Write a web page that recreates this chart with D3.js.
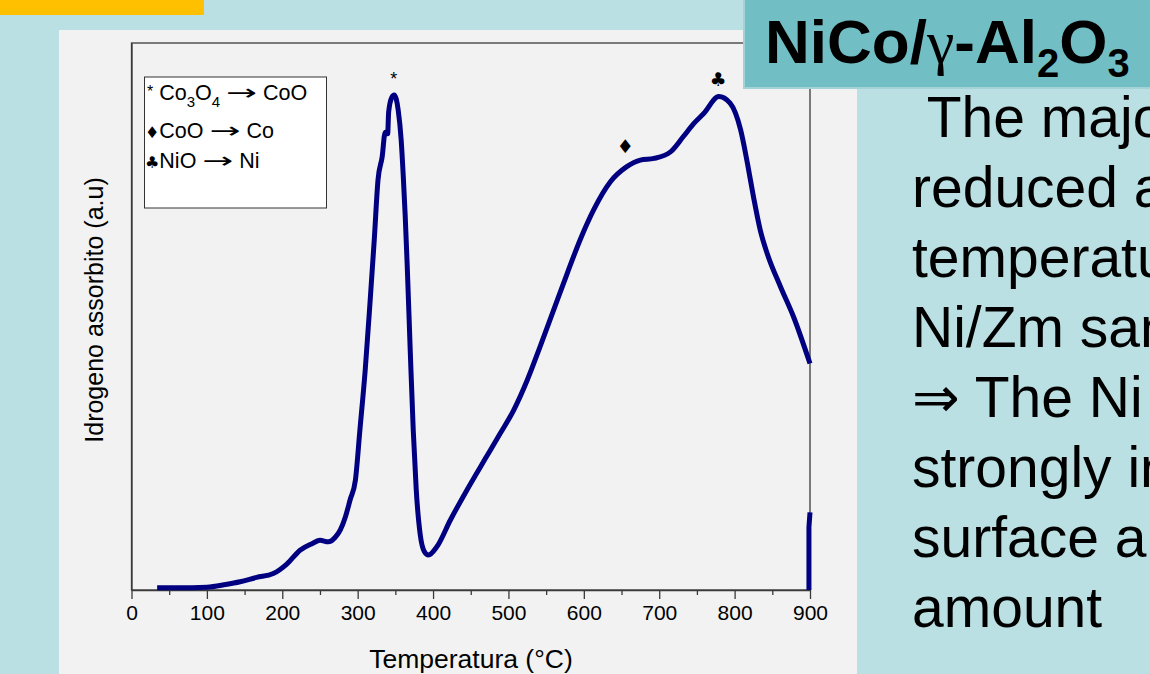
<!DOCTYPE html>
<html>
<head>
<meta charset="utf-8">
<script src="https://cdn.jsdelivr.net/npm/d3@7"></script>
<style>
  body { margin: 0; background: #BBE0E3; }
  svg { display: block; font-family: Arial, "Liberation Sans", sans-serif; }
</style>
</head>
<body>
<svg id="chart"></svg>
<script>
// TPR profile NiCo/gamma-Al2O3 (arbitrary units 0..100)
var tempC = [34, 60, 100, 125, 144, 166, 188, 206, 224, 240, 250, 261, 270, 277, 284, 290,
             297, 303, 310, 316.6, 322, 327, 332.5, 336.5, 339.8, 341.1, 345.4, 348.4,
             353.7, 357.7, 360.4, 363, 365.7, 369.7, 373.7, 377.7, 383, 388.2, 394, 405,
             423, 445, 471, 489, 507, 525, 542, 560, 578, 595, 613, 635, 657, 675, 693,
             715, 732, 746, 759, 779, 794, 808, 817, 825, 834, 843, 861, 878, 900];
var h2Signal = [0.4, 0.4, 0.5, 1.0, 1.5, 2.3, 3.0, 4.75, 7.3, 8.5, 9.1, 8.8, 9.6, 11, 13.5, 16.5,
                20.1, 29.3, 40.2, 53, 64, 75, 79.2, 83.7, 83.4, 87.4, 90.1, 90.5,
                87.8, 82.3, 75.9, 68.6, 59.4, 43.9, 29.3, 18.3, 10.1, 7.1, 6.4, 7.9,
                12.8, 18.3, 24.4, 28.6, 32.9, 38.4, 44.5, 51.2, 57.9, 64, 69.5, 74.6, 77.4, 78.6, 78.9,
                80.1, 82.9, 85.3, 87.1, 90.2, 89, 84.1, 78, 71.9, 65.8, 61.6, 55.4, 50, 41.4];

// isothermal tail at 900 °C
var holdT = [900, 898.6, 898.6];
var holdSignal = [14.2, 11.5, 0];

var majorTicks = [0, 100, 200, 300, 400, 500, 600, 700, 800, 900];
var minorTicks = [50, 150, 250, 350, 450, 550, 650, 750, 850];

// peak markers
var markSymbols = ["*", "\u2666", "\u2663"];
var markT = [348, 655, 778];
var markV = [92.4, 79.8, 92.1];

var bodyLines = [" The major", "reduced at", "temperature", "Ni/Zm sample",
                 "\u21D2 The Ni", "strongly in", "surface and", "amount"];

var symbolFont = "'DejaVu Sans', sans-serif";

var width = 1150;
var height = 674;

var svg = d3.select("#chart")
    .attr("width", width)
    .attr("height", height);

svg.append("rect")
    .attr("width", width)
    .attr("height", height)
    .attr("fill", "#BBE0E3");

// orange strip top left
svg.append("rect")
    .attr("x", 0).attr("y", 0)
    .attr("width", 204).attr("height", 15)
    .attr("fill", "#FFC000");

// grey chart panel
svg.append("rect")
    .attr("x", 59).attr("y", 30)
    .attr("width", 798).attr("height", 650)
    .attr("fill", "#F2F2F2");

var plot = { left: 131.5, right: 810, top: 43, bottom: 590 };

var x = d3.scaleLinear()
    .domain([0, 900])
    .range([plot.left, plot.right]);

var y = d3.scaleLinear()
    .domain([0, 100])
    .range([plot.bottom, plot.top]);

// frame
svg.append("rect")
    .attr("x", plot.left).attr("y", plot.top)
    .attr("width", plot.right - plot.left)
    .attr("height", plot.bottom - plot.top)
    .attr("fill", "none")
    .attr("stroke", "#3a3a3a")
    .attr("stroke-width", 1.3);

var xAxis = svg.append("g")
    .attr("transform", "translate(0," + plot.bottom + ")")
    .call(d3.axisBottom(x).tickValues(majorTicks).tickFormat(d3.format("d"))
        .tickSize(9).tickSizeOuter(0).tickPadding(6));

svg.append("g")
    .attr("transform", "translate(0," + plot.bottom + ")")
    .call(d3.axisBottom(x).tickValues(minorTicks).tickFormat("")
        .tickSize(5).tickSizeOuter(0))
    .call(g => g.select(".domain").remove());

svg.append("g")
    .attr("transform", "translate(" + plot.left + ",0)")
    .call(d3.axisLeft(y).tickValues([]).tickSizeOuter(0));

svg.selectAll(".domain, .tick line")
    .attr("stroke", "#3a3a3a")
    .attr("stroke-width", 1.3);

xAxis.selectAll("text")
    .attr("font-size", 21)
    .attr("font-family", "Arial, 'Liberation Sans', sans-serif")
    .attr("fill", "#000");

// axis titles
svg.append("text")
    .attr("x", 471)
    .attr("y", 668)
    .attr("text-anchor", "middle")
    .attr("font-size", 26.5)
    .text("Temperatura (\u00B0C)");

svg.append("text")
    .attr("transform", "translate(103,310) rotate(-90)")
    .attr("text-anchor", "middle")
    .attr("font-size", 25)
    .text("Idrogeno assorbito (a.u)");

// curve
var profile = tempC.map((t, i) => ({ t: t, v: h2Signal[i] }));
var hold = holdT.map((t, i) => ({ t: t, v: holdSignal[i] }));

var line = d3.line()
    .x(d => x(d.t))
    .y(d => y(d.v))
    .curve(d3.curveMonotoneX);

svg.append("path")
    .datum(profile)
    .attr("d", line)
    .attr("fill", "none")
    .attr("stroke", "#000080")
    .attr("stroke-width", 5)
    .attr("stroke-linejoin", "round");

svg.append("path")
    .datum(hold)
    .attr("d", line.curve(d3.curveLinear))
    .attr("fill", "none")
    .attr("stroke", "#000080")
    .attr("stroke-width", 5);

// peak symbols
svg.selectAll(".mark")
    .data(markSymbols)
    .enter()
    .append("text")
        .classed("mark", true)
        .attr("x", (d, i) => x(markT[i]))
        .attr("y", (d, i) => y(markV[i]))
        .attr("text-anchor", "middle")
        .attr("font-family", (d, i) => i === 0 ? null : symbolFont)
        .attr("font-size", (d, i) => i === 0 ? 18 : 19)
        .text(d => d);

// legend box
var legend = svg.append("g");
legend.append("rect")
    .attr("x", 144.5).attr("y", 77)
    .attr("width", 182).attr("height", 131)
    .attr("fill", "#fff")
    .attr("stroke", "#333")
    .attr("stroke-width", 1);

function arrow(t) {
    t.append("tspan").text("\u2192")
        .attr("font-family", symbolFont)
        .attr("textLength", 31)
        .attr("lengthAdjust", "spacingAndGlyphs");
}

var l1 = legend.append("text")
    .attr("x", 147).attr("y", 100)
    .attr("font-size", 21.5);
l1.append("tspan").text("*").attr("font-size", 16).attr("dy", -3);
l1.append("tspan").text(" Co").attr("dy", 3);
l1.append("tspan").text("3").attr("font-size", 15).attr("dy", 7);
l1.append("tspan").text("O").attr("dy", -7);
l1.append("tspan").text("4").attr("font-size", 15).attr("dy", 7);
l1.append("tspan").text(" ").attr("dy", -7);
arrow(l1);
l1.append("tspan").text(" CoO");

var l2 = legend.append("text")
    .attr("x", 145).attr("y", 138)
    .attr("font-size", 21.5);
l2.append("tspan").text("\u2666").attr("font-size", 16).attr("font-family", symbolFont);
l2.append("tspan").text("CoO ");
arrow(l2);
l2.append("tspan").text(" Co");

var l3 = legend.append("text")
    .attr("x", 145).attr("y", 168)
    .attr("font-size", 21.5);
l3.append("tspan").text("\u2663").attr("font-size", 16).attr("font-family", symbolFont);
l3.append("tspan").text("NiO ");
arrow(l3);
l3.append("tspan").text(" Ni");

// title box
svg.append("rect")
    .attr("x", 744).attr("y", -2)
    .attr("width", 410).attr("height", 90)
    .attr("fill", "#72BEC5")
    .attr("stroke", "#A3D3D7")
    .attr("stroke-width", 2);

var title = svg.append("text")
    .attr("x", 765).attr("y", 63)
    .attr("font-size", 62)
    .attr("font-weight", "bold");
title.append("tspan").text("NiCo/");
title.append("tspan").text("\u03B3")
    .attr("font-weight", "normal")
    .attr("font-family", "'Liberation Serif', 'Times New Roman', serif");
title.append("tspan").text("-Al");
title.append("tspan").text("2").attr("font-size", 40).attr("dy", 14);
title.append("tspan").text("O").attr("dy", -14);
title.append("tspan").text("3").attr("font-size", 40).attr("dy", 14);

// side text
svg.selectAll(".body-line")
    .data(bodyLines)
    .enter()
    .append("text")
        .classed("body-line", true)
        .attr("x", 912)
        .attr("y", (d, i) => 137 + i * 70)
        .attr("font-size", 57)
        .attr("xml:space", "preserve")
        .style("white-space", "pre")
        .text(d => d);
</script>
</body>
</html>
